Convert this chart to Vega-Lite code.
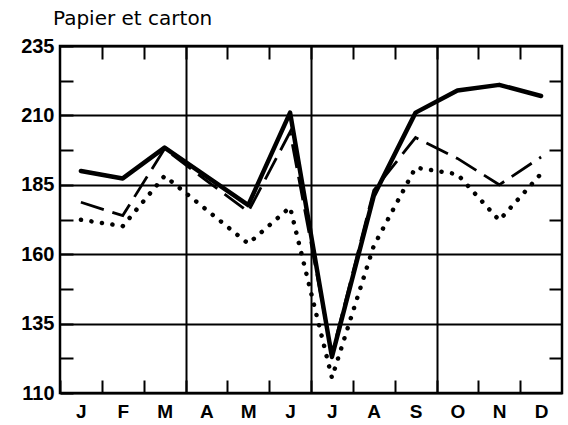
{
  "$schema": "https://vega.github.io/schema/vega-lite/v6.json",
  "width": 502,
  "height": 347,
  "autosize": "none",
  "padding": {"left": 60, "top": 46, "right": 6, "bottom": 32},
  "background": "white",
  "title": {"text": "Papier et carton", "anchor": "start", "frame": "group", "offset": 19, "dx": -7, "dy": 28, "fontSize": 20, "font": "DejaVu Sans", "fontWeight": "normal", "color": "black", "baseline": "alphabetic"},
  "config": {
    "view": {"stroke": "black", "strokeWidth": 2.5},
    "axis": {"labelFont": "Liberation Sans", "labelFontWeight": "bold", "labelColor": "black", "tickColor": "black", "tickWidth": 2, "domain": false, "labelFlush": false, "labelOverlap": false, "labelBound": false, "title": null}
  },
  "data": {"values": [
    {"m": 1, "s": "a", "v": 190}, {"m": 2, "s": "a", "v": 187.3}, {"m": 3, "s": "a", "v": 198.4}, {"m": 4, "s": "a", "v": 188}, {"m": 5, "s": "a", "v": 177.7}, {"m": 6, "s": "a", "v": 211}, {"m": 7, "s": "a", "v": 123}, {"m": 8, "s": "a", "v": 181}, {"m": 9, "s": "a", "v": 211}, {"m": 10, "s": "a", "v": 219}, {"m": 11, "s": "a", "v": 221}, {"m": 12, "s": "a", "v": 217},
    {"m": 1, "s": "b", "v": 178.7}, {"m": 2, "s": "b", "v": 173.9}, {"m": 3, "s": "b", "v": 198}, {"m": 4, "s": "b", "v": 186.5}, {"m": 5, "s": "b", "v": 175.3}, {"m": 6, "s": "b", "v": 204}, {"m": 7, "s": "b", "v": 124}, {"m": 8, "s": "b", "v": 183}, {"m": 9, "s": "b", "v": 202}, {"m": 10, "s": "b", "v": 194.5}, {"m": 11, "s": "b", "v": 185}, {"m": 12, "s": "b", "v": 195},
    {"m": 1, "s": "c", "v": 172.4}, {"m": 2, "s": "c", "v": 170.1}, {"m": 3, "s": "c", "v": 188.2}, {"m": 4, "s": "c", "v": 176}, {"m": 5, "s": "c", "v": 163.8}, {"m": 6, "s": "c", "v": 176.9}, {"m": 7, "s": "c", "v": 115.5}, {"m": 8, "s": "c", "v": 163}, {"m": 9, "s": "c", "v": 191.2}, {"m": 10, "s": "c", "v": 188.8}, {"m": 11, "s": "c", "v": 172.2}, {"m": 12, "s": "c", "v": 189}
  ]},
  "resolve": {"axis": {"x": "independent", "y": "independent"}},
  "layer": [
    {
      "transform": [{"filter": "datum.s == 'a'"}],
      "mark": {"type": "line", "color": "black", "strokeWidth": 4.5, "strokeJoin": "round", "strokeCap": "round"},
      "encoding": {
        "x": {"field": "m", "type": "quantitative", "scale": {"domain": [0.5, 12.5], "nice": false, "zero": false},
          "axis": {"orient": "bottom", "values": [0.5, 1.5, 2.5, 3.5, 4.5, 5.5, 6.5, 7.5, 8.5, 9.5, 10.5, 11.5],
            "labelExpr": "['J','F','M','A','M','J','J','A','S','O','N','D'][floor(datum.value)]",
            "labelOffset": 20.9, "labelAlign": "center", "labelFontSize": 19, "labelPadding": 22, "tickSize": -13,
            "grid": true, "gridColor": "black", "gridWidth": 2,
            "gridOpacity": {"condition": {"test": "datum.value == 3.5 || datum.value == 6.5 || datum.value == 9.5", "value": 1}, "value": 0}}},
        "y": {"field": "v", "type": "quantitative", "scale": {"domain": [110, 235], "nice": false, "zero": false},
          "axis": {"orient": "left", "values": [110, 122.5, 135, 147.5, 160, 172.5, 185, 197.5, 210, 222.5, 235],
            "labelExpr": "datum.value % 25 == 10 ? format(datum.value, 'd') : ''",
            "labelFontSize": 20, "labelPadding": 19, "tickSize": -13,
            "grid": true, "gridColor": "black", "gridWidth": 2,
            "gridOpacity": {"condition": {"test": "datum.value % 25 == 10", "value": 1}, "value": 0}}}
      }
    },
    {
      "transform": [{"filter": "datum.s == 'b'"}],
      "mark": {"type": "line", "color": "black", "strokeWidth": 2.8, "strokeDash": [24, 9]},
      "encoding": {
        "x": {"field": "m", "type": "quantitative",
          "axis": {"orient": "top", "values": [1.5, 2.5, 3.5, 4.5, 5.5, 6.5, 7.5, 8.5, 9.5, 10.5, 11.5], "labels": false, "tickSize": -13, "grid": false}},
        "y": {"field": "v", "type": "quantitative",
          "axis": {"orient": "right", "values": [122.5, 147.5, 172.5, 197.5, 222.5], "labels": false, "tickSize": -13, "grid": false}}
      }
    },
    {
      "transform": [{"filter": "datum.s == 'c'"}],
      "mark": {"type": "line", "color": "black", "strokeWidth": 4.5, "strokeDash": [0.1, 10.5], "strokeCap": "round"},
      "encoding": {
        "x": {"field": "m", "type": "quantitative", "axis": null},
        "y": {"field": "v", "type": "quantitative", "axis": null}
      }
    }
  ]
}
